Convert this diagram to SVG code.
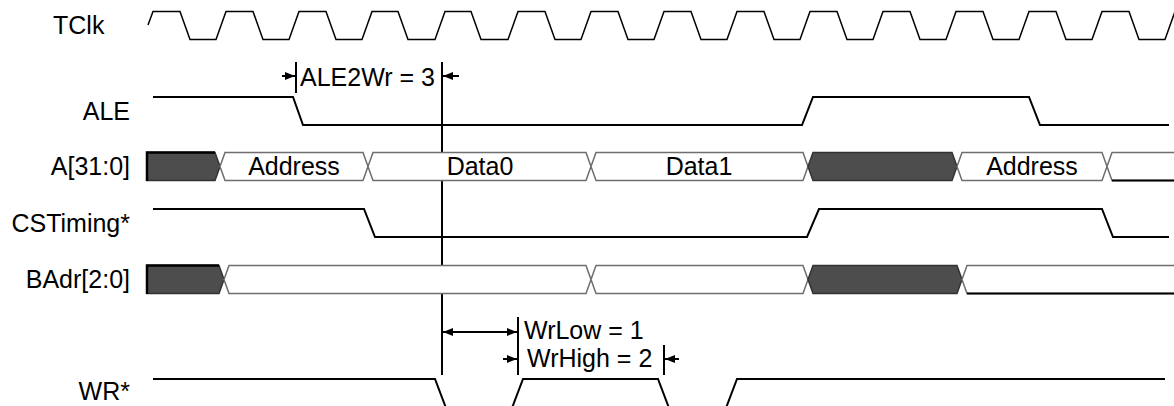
<svg xmlns="http://www.w3.org/2000/svg" width="1174" height="406" viewBox="0 0 1174 406">
<defs>
<style>
.lbl{font-family:"Liberation Sans",Arial,sans-serif;font-size:25px;fill:#000}
.lab{text-anchor:end}
.mid{text-anchor:middle}
.sig{fill:none;stroke:#000;stroke-width:2}
.clk{fill:none;stroke:#000;stroke-width:1.5}
.busw{fill:#fff;stroke:#6e6e6e;stroke-width:1.5}
.busd{fill:#4d4d4d;stroke:#333;stroke-width:1.5}
.edge{fill:none;stroke:#000;stroke-width:2.5}
.dim{fill:none;stroke:#000;stroke-width:2}
</style>
<marker id="ah" viewBox="0 0 10 8" refX="10" refY="4" markerWidth="10" markerHeight="8" markerUnits="userSpaceOnUse" orient="auto">
<path d="M0,0 L10,4 L0,8 Z" fill="#000"/>
</marker>
<marker id="ahs" viewBox="0 0 10 8" refX="0" refY="4" markerWidth="10" markerHeight="8" markerUnits="userSpaceOnUse" orient="auto">
<path d="M10,0 L0,4 L10,8 Z" fill="#000"/>
</marker>
</defs>
<rect width="1174" height="406" fill="#fff"/>

<g id="TClk">
<text class="lbl" x="53" y="34">TClk</text>
<path class="clk" d="M148,25 L153,11.5 H180 L190,39.5 H216 L226,11.5 H253 L263,39.5 H289 L299,11.5 H326 L336,39.5 H362 L372,11.5 H398 L408,39.5 H435 L445,11.5 H471 L481,39.5 H508 L518,11.5 H545 L555,39.5 H581 L591,11.5 H618 L628,39.5 H654 L664,11.5 H691 L701,39.5 H727 L737,11.5 H764 L774,39.5 H800 L810,11.5 H837 L847,39.5 H873 L883,11.5 H910 L920,39.5 H946 L956,11.5 H983 L993,39.5 H1019 L1029,11.5 H1056 L1066,39.5 H1092 L1102,11.5 H1129 L1139,39.5 H1165 L1175,11.5"/>
</g>

<g id="connectors">
<line class="dim" x1="442" y1="62" x2="442" y2="375"/>
</g>

<g id="ALE">
<text class="lbl lab" x="130" y="120">ALE</text>
<path class="sig" d="M153,97 H293 L303,125 H802 L813,97 H1029 L1040,125 H1169"/>
</g>

<g id="A">
<text class="lbl lab" x="130" y="175">A[31:0]</text>
<path class="busd" d="M147,152.5 H215 L220,166.5 L215,180.5 H147 Z"/>
<path class="busw" d="M220,166.5 L225,152.5 H363 L368,166.5 L363,180.5 H225 Z"/>
<path class="busw" d="M368,166.5 L373,152.5 H586 L591,166.5 L586,180.5 H373 Z"/>
<path class="busw" d="M591,166.5 L596,152.5 H803 L808,166.5 L803,180.5 H596 Z"/>
<path class="busd" d="M808,166.5 L813,152.5 H952 L957,166.5 L952,180.5 H813 Z"/>
<path class="busw" d="M957,166.5 L962,152.5 H1102 L1107,166.5 L1102,180.5 H962 Z"/>
<path class="busw" d="M1107,166.5 L1112,152.5 H1176 V180.5 H1112 Z"/>
<path class="sig" d="M1112,180.5 H1176"/>
<path class="edge" d="M147,181 V152.5 H215"/>
<text class="lbl mid" x="294" y="175">Address</text>
<text class="lbl mid" x="480" y="175">Data0</text>
<text class="lbl mid" x="699" y="175">Data1</text>
<text class="lbl mid" x="1032" y="175">Address</text>
</g>

<g id="CSTiming">
<text class="lbl lab" x="130" y="232">CSTiming*</text>
<path class="sig" d="M153,209 H364 L375,237 H807 L819,209 H1102 L1113,237 H1169"/>
</g>

<g id="BAdr">
<text class="lbl lab" x="130" y="288">BAdr[2:0]</text>
<path class="busd" d="M147,265.5 H219 L224,279.5 L219,293.5 H147 Z"/>
<path class="busw" d="M224,279.5 L229,265.5 H586 L591,279.5 L586,293.5 H229 Z"/>
<path class="busw" d="M591,279.5 L596,265.5 H803 L808,279.5 L803,293.5 H596 Z"/>
<path class="busd" d="M808,279.5 L813,265.5 H957 L962,279.5 L957,293.5 H813 Z"/>
<path class="busw" d="M962,279.5 L967,265.5 H1176 V293.5 H967 Z"/>
<path class="sig" d="M967,293.5 H1176"/>
<path class="edge" d="M147,294 V265.5 H219"/>
</g>

<g id="WR">
<text class="lbl lab" x="130" y="400">WR*</text>
<path class="sig" d="M153,379 H435 L446,408"/>
<path class="sig" d="M512,408 L523,379 H658 L669,408"/>
<path class="sig" d="M726,408 L737,379 H1165"/>
</g>

<g id="ALE2Wr">
<line class="dim" x1="296" y1="62" x2="296" y2="93"/>
<line class="dim" x1="282" y1="76" x2="295" y2="76" marker-end="url(#ah)"/>
<line class="dim" x1="459" y1="76" x2="443" y2="76" marker-end="url(#ah)"/>
<text class="lbl" x="300" y="86">ALE2Wr = 3</text>
</g>

<g id="WrLow">
<line class="dim" x1="518" y1="317" x2="518" y2="375"/>
<line class="dim" x1="443" y1="332" x2="517" y2="332" marker-start="url(#ahs)" marker-end="url(#ah)"/>
<text class="lbl" x="524" y="339">WrLow = 1</text>
</g>

<g id="WrHigh">
<line class="dim" x1="503" y1="359" x2="517" y2="359" marker-end="url(#ah)"/>
<line class="dim" x1="664" y1="345" x2="664" y2="375"/>
<line class="dim" x1="679" y1="359" x2="665" y2="359" marker-end="url(#ah)"/>
<text class="lbl" x="527" y="367">WrHigh = 2</text>
</g>
</svg>
